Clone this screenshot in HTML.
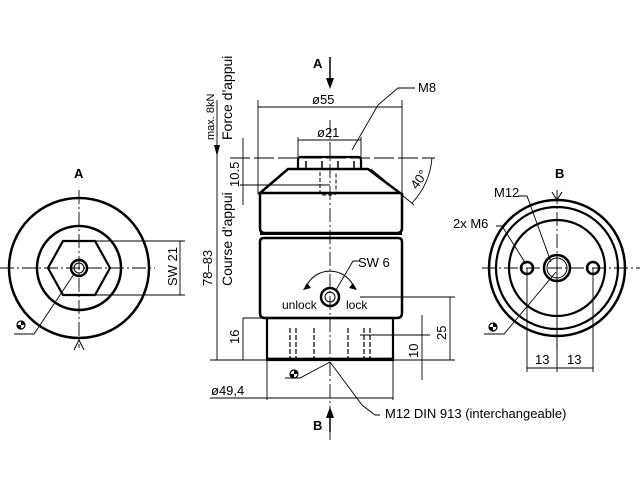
<!DOCTYPE html>
<html><head><style>body{margin:0;background:#fff}svg{display:block}text{font-family:"Liberation Sans",sans-serif;fill:#000}</style></head><body>
<svg width="640" height="480" viewBox="0 0 640 480" xmlns="http://www.w3.org/2000/svg">
<g fill="none" stroke="#000">
<!-- left view A -->
<circle cx="79" cy="268" r="70" stroke-width="2.5"/>
<circle cx="79" cy="268" r="42" stroke-width="2.5"/>
<polygon points="48,268 63,241 95,241 110,268 95,295 63,295" stroke-width="2.2"/>
<circle cx="79" cy="268" r="8" stroke-width="2.5"/>
<circle cx="79" cy="268" r="5" stroke-width="1"/>
<line x1="0" y1="268" x2="155" y2="268" stroke-width="0.9" stroke-dasharray="14,3,2,3"/>
<line x1="79" y1="190" x2="79" y2="348" stroke-width="0.9" stroke-dasharray="14,3,2,3"/>
<line x1="74" y1="350" x2="79" y2="340" stroke-width="1"/><line x1="84" y1="350" x2="79" y2="340" stroke-width="1"/>
<line x1="95" y1="241" x2="185" y2="241" stroke-width="0.9"/>
<line x1="95" y1="295" x2="185" y2="295" stroke-width="0.9"/>
<line x1="180" y1="241" x2="180" y2="295" stroke-width="0.9"/>
<polyline points="14,334 34,334 74,274" stroke-width="0.9"/>
<!-- right view B -->
<circle cx="557" cy="268" r="68" stroke-width="2.5"/>
<circle cx="557" cy="268" r="61" stroke-width="2.2"/>
<circle cx="557" cy="268" r="48" stroke-width="2.2"/>
<circle cx="557" cy="268" r="13" stroke-width="2.5"/>
<circle cx="557" cy="268" r="10" stroke-width="1"/>
<circle cx="527" cy="268" r="6" stroke-width="2.5"/>
<circle cx="593" cy="268" r="6" stroke-width="2.5"/>
<line x1="482" y1="268" x2="640" y2="268" stroke-width="0.9" stroke-dasharray="14,3,2,3"/>
<line x1="557" y1="190" x2="557" y2="348" stroke-width="0.9" stroke-dasharray="14,3,2,3"/>
<line x1="552" y1="192" x2="557" y2="200" stroke-width="1"/><line x1="562" y1="192" x2="557" y2="200" stroke-width="1"/>
<line x1="527" y1="268" x2="527" y2="372" stroke-width="0.9"/>
<line x1="557" y1="268" x2="557" y2="372" stroke-width="0.9"/>
<line x1="593" y1="268" x2="593" y2="372" stroke-width="0.9"/>
<line x1="527" y1="368" x2="593" y2="368" stroke-width="0.9"/>
<polyline points="518,196 527,196 551,262" stroke-width="0.9"/>
<polyline points="496,226 502,226 526,264" stroke-width="0.9"/>
<polyline points="484,334 504,334 556,272" stroke-width="0.9"/>
<!-- main view -->
<line x1="330" y1="120" x2="330" y2="440" stroke-width="0.9" stroke-dasharray="14,3,2,3"/>
<path d="M298,169 L298,160 Q298,157 301,157 L358,157 Q361,157 361,160 L361,169" stroke-width="2.2"/>
<path d="M306,169 v-8 M322,169 v-8 M338,169 v-8 M354,169 v-8" stroke-width="1.5"/>
<polygon points="288,169 368,169 400,193 260,193" stroke-width="2.5"/>
<path d="M260,193 L260,228 Q260,233 265,233 L397,233 Q402,233 402,228 L402,193" stroke-width="2.5"/>
<rect x="260" y="232" width="142" height="3" fill="#000" stroke="none"/>
<path d="M264,238 L398,238 Q402,238 402,242 L402,313 Q402,318 397,318 L265,318 Q260,318 260,313 L260,242 Q260,238 264,238" stroke-width="2.5"/>
<rect x="267" y="318" width="126" height="42" stroke-width="2.2"/>
<line x1="267" y1="359" x2="393" y2="359" stroke-width="2.8"/>
<path d="M320,172 v20 q0,3 3,3 h10 q3,0 3,-3 v-20" stroke-width="1" stroke-dasharray="4,2"/>
<path d="M290,328 v30 M296,328 v30 M314,328 v30 M348,328 v30 M364,328 v30 M370,328 v30" stroke-width="1.2" stroke-dasharray="5,2"/>
<circle cx="330" cy="297" r="9" stroke-width="2.5"/>
<circle cx="330" cy="297" r="5" stroke-width="1"/>
<path d="M307,285 A26,26 0 0 1 353,285" stroke-width="1"/>
<polygon points="303,290 307,283 311,288" fill="#000" stroke="none"/>
<polygon points="357,290 353,283 349,288" fill="#000" stroke="none"/>
<polyline points="360,261 353,261 336,290" stroke-width="0.9"/>
<!-- dims -->
<line x1="258" y1="100" x2="258" y2="193" stroke-width="0.9"/>
<line x1="402" y1="100" x2="402" y2="193" stroke-width="0.9"/>
<line x1="258" y1="107" x2="402" y2="107" stroke-width="0.9"/>
<polyline points="415,88 398,88 378,105 352,150" stroke-width="0.9"/>
<line x1="298" y1="137" x2="298" y2="157" stroke-width="0.9"/>
<line x1="361" y1="137" x2="361" y2="157" stroke-width="0.9"/>
<line x1="298" y1="140" x2="361" y2="140" stroke-width="0.9"/>
<line x1="230" y1="158" x2="435" y2="158" stroke-width="0.9" stroke-dasharray="20,4"/>
<line x1="240" y1="185" x2="330" y2="185" stroke-width="0.9"/>
<line x1="243" y1="138" x2="243" y2="205" stroke-width="0.9"/>
<line x1="210" y1="360" x2="267" y2="360" stroke-width="0.9"/>
<line x1="217" y1="100" x2="217" y2="360" stroke-width="0.9"/>
<line x1="243" y1="318" x2="267" y2="318" stroke-width="0.9"/>
<line x1="243" y1="318" x2="243" y2="360" stroke-width="0.9"/>
<line x1="210" y1="398" x2="393" y2="398" stroke-width="0.9"/>
<line x1="267" y1="360" x2="267" y2="400" stroke-width="0.9"/>
<line x1="393" y1="360" x2="393" y2="400" stroke-width="0.9"/>
<line x1="360" y1="297" x2="455" y2="297" stroke-width="0.9"/>
<line x1="450" y1="297" x2="450" y2="360" stroke-width="0.9"/>
<line x1="393" y1="360" x2="455" y2="360" stroke-width="0.9"/>
<line x1="360" y1="335" x2="430" y2="335" stroke-width="0.9"/>
<line x1="422" y1="315" x2="422" y2="380" stroke-width="0.9"/>
<path d="M412,203 A75,75 0 0 0 432,158" stroke-width="0.9"/>
<line x1="371" y1="169" x2="414" y2="205" stroke-width="0.9"/>
<polyline points="330,362 300,378 285,378" stroke-width="0.9"/>
<polyline points="330,362 362,405 375,415 380,415" stroke-width="0.9"/>
<line x1="330" y1="57" x2="330" y2="85" stroke-width="1.5"/>
<line x1="330" y1="410" x2="330" y2="432" stroke-width="1.5"/>
</g>
<polygon points="326,78 334,78 330,89" fill="#000"/>
<polygon points="326,418 334,418 330,407" fill="#000"/>
<polygon points="214,145 220,145 217,156" fill="#000"/>
<circle cx="21" cy="325" r="4" fill="none" stroke="#000" stroke-width="1.2"/>
<path d="M21,321 A4,4 0 0 1 25,325 L21,325Z M21,329 A4,4 0 0 1 17,325 L21,325Z" fill="#000"/>
<circle cx="493" cy="327" r="4" fill="none" stroke="#000" stroke-width="1.2"/>
<path d="M493,323 A4,4 0 0 1 497,327 L493,327Z M493,331 A4,4 0 0 1 489,327 L493,327Z" fill="#000"/>
<circle cx="294" cy="374" r="4" fill="none" stroke="#000" stroke-width="1.2"/>
<path d="M294,370 A4,4 0 0 1 298,374 L294,374Z M294,378 A4,4 0 0 1 290,374 L294,374Z" fill="#000"/>
<g font-size="13">
<text x="74" y="178" font-weight="bold">A</text>
<text x="555" y="178" font-weight="bold">B</text>
<text x="313" y="68" font-weight="bold">A</text>
<text x="313" y="430" font-weight="bold">B</text>
<text x="312" y="104">ø55</text>
<text x="317" y="137">ø21</text>
<text x="418" y="92">M8</text>
<text x="358" y="267">SW 6</text>
<text x="282" y="309" font-size="12">unlock</text>
<text x="346" y="309" font-size="12">lock</text>
<text x="211" y="395">ø49,4</text>
<text x="385" y="418">M12 DIN 913 (interchangeable)</text>
<text x="494" y="197">M12</text>
<text x="453" y="228">2x M6</text>
<text x="535" y="364">13</text>
<text x="567" y="364">13</text>
<text transform="translate(177,286) rotate(-90)">SW 21</text>
<text transform="translate(239,187) rotate(-90)">10.5</text>
<text transform="translate(239,344) rotate(-90)">16</text>
<text transform="translate(446,340) rotate(-90)">25</text>
<text transform="translate(418,358) rotate(-90)">10</text>
<text transform="translate(212,286) rotate(-90)">78–83</text>
<text transform="translate(232,286) rotate(-90)" font-size="14">Course d'appui</text>
<text transform="translate(232,140) rotate(-90)" font-size="14">Force d'appui</text>
<text transform="translate(214,140) rotate(-90)" font-size="11">max. 8kN</text>
<text transform="translate(417,190) rotate(-55)">40°</text>
</g>
</svg>
</body></html>
